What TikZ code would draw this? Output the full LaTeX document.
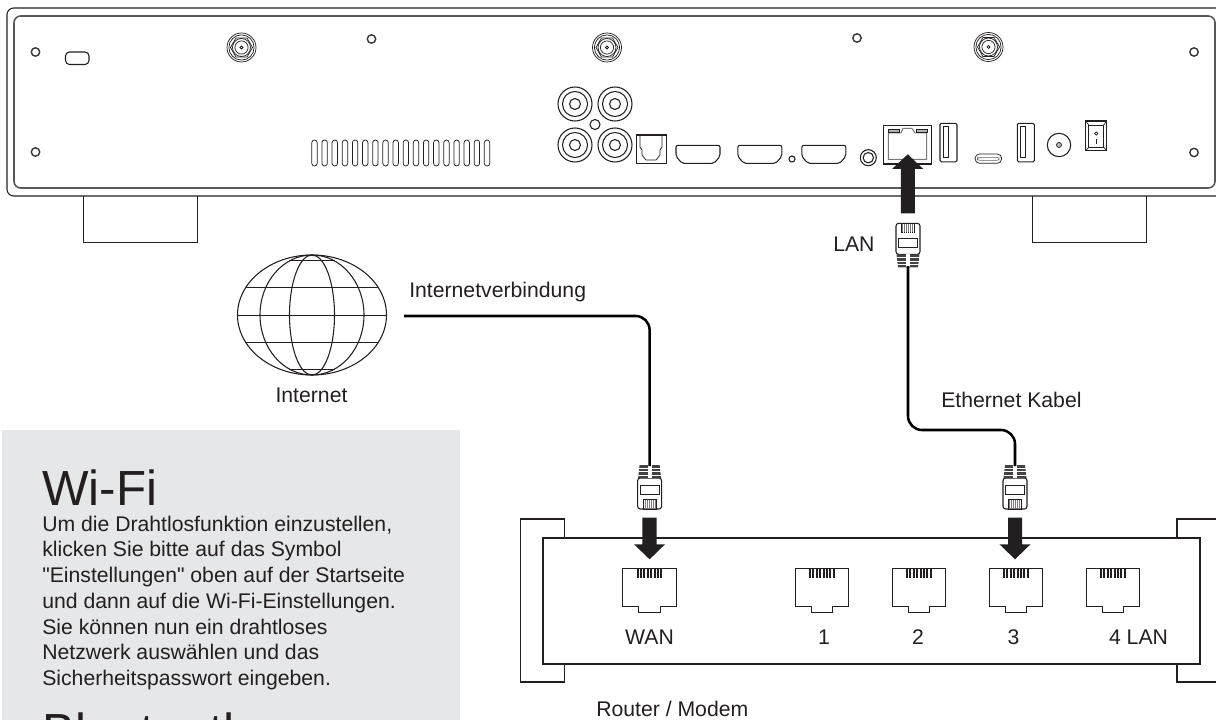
\documentclass[tikz,border=0pt]{standalone}
\usepackage{fontspec}
\setmainfont[Ligatures=TeXOff]{Liberation Sans}
\definecolor{ink}{HTML}{231F20}
\definecolor{panel}{HTML}{E6E7E8}
\tikzset{
  x=0.75pt,y=-0.75pt,
  thin line/.style={draw=ink,line width=0.8pt},
  foot line/.style={draw=ink,line width=0.65pt},
  hair/.style={draw=ink,line width=0.55pt},
  cable/.style={draw=black,line width=1.9pt,rounded corners=10.5pt},
  bigarrow/.style={fill=ink,draw=none},
  label/.style={font=\fontsize{15.9}{19}\selectfont,text=ink,inner sep=0pt,anchor=base west},
  heading/.style={font=\fontsize{37}{42}\selectfont,text=ink,inner sep=0pt,anchor=base west},
  screw/.pic={\draw[draw=ink!90,line width=1.05pt,fill=white] (0,0) circle (4.2);},
  antenna/.pic={
    \draw[hair] (0,0) circle (14.5) circle (12.6);
    \draw[hair] (0:11)--(60:11)--(120:11)--(180:11)--(240:11)--(300:11)--cycle;
    \draw[hair] (0,0) circle (9) circle (6.6);
    \draw[hair] (0,0) circle (1.5);},
  rca/.pic={\draw[thin line] (0,0) circle (17) circle (12.5) circle (5.5);},
  hdmi/.pic={\draw[thin line,rounded corners=1.5pt] (0,0)--(44,0)--(44,11)--(38,18)--(6,18)--(0,11)--cycle;},
  usb/.pic={\draw[thin line,rounded corners=1pt] (0,0) rectangle (17,38.5);
    \draw[hair] (3,3.5) rectangle (8.5,34.5);},
  jack/.pic={
    \draw[hair] (0,0)--(53.5,0)--(53.5,38.7)--(37.5,38.7)--(37.5,44.7)--(16,44.7)--(16,38.7)--(0,38.7)--cycle;
    \foreach \k in {0,...,7}{\fill[ink] ({14+\k*3.4},0) rectangle ++(2,10);}},
  plug/.pic={
    \draw[thin line,rounded corners=2pt] (-12,0)--(12,0)--(12,31)--(-12,31)--cycle;
    \draw[hair] (-9.5,15) rectangle (9.5,24);
    \draw[hair,fill=ink!60] (-6.5,0) rectangle (6.5,9.5);
    \foreach \k in {-5,-3,...,5}{\draw[white,line width=0.3pt] (\k,1)--(\k,9.5);}
    \fill[ink!85] (-11.5,31)--(11.5,31)--(10,44)--(-10,44)--cycle;
    \fill[white] (-2,31) rectangle (2,44);
    \foreach \yy in {34,37.5,41}{\draw[white,line width=0.35pt] (-11.5,\yy)--(11.5,\yy);}},
}
\begin{document}
\begin{tikzpicture}
\useasboundingbox (0,0) rectangle (1216,720);
\begin{scope}
\clip (0,0) rectangle (1216,720);
% grey panel
\fill[panel] (2,430) rectangle (460,720);
\node[heading] (wifi) at (42,505) {Wi-Fi};
\node[heading] (bt) at (42,748) {Bluetooth};
\node[label] (b1) at (42,531) {Um die Drahtlosfunktion einzustellen,};
\node[label] (b2) at (42,556.7) {klicken Sie bitte auf das Symbol};
\node[label] (b3) at (42,582.5) {"Einstellungen" oben auf der Startseite};
\node[label] (b4) at (42,608) {und dann auf die Wi-Fi-Einstellungen.};
\node[label] (b5) at (42,634) {Sie können nun ein drahtloses};
\node[label] (b6) at (42,659.5) {Netzwerk auswählen und das};
\node[label] (b7) at (42,685) {Sicherheitspasswort eingeben.};
% feet
\draw[foot line] (83,196)--(83,242)--(197,242)--(197,196);
\draw[foot line] (1032,196)--(1032,242)--(1146,242)--(1146,196);
% device body
\draw[thin line,rounded corners=5pt] (7,8) rectangle (1240,196);
\draw[draw=ink!75,line width=1.2pt,rounded corners=5pt] (14,16) rectangle (1215,188);
% small items
\pic at (35.5,52) {screw};
\pic at (35.5,152) {screw};
\pic at (371.5,39) {screw};
\pic at (857,38) {screw};
\pic at (1194,52) {screw};
\pic at (1194,152.5) {screw};
\draw[thin line,rounded corners=3pt] (65.5,52) rectangle (89,64.5);
\pic at (241.5,47.5) {antenna};
\pic at (607,47.5) {antenna};
\pic at (988.5,47) {antenna};
\foreach \k in {0,...,17}{
  \draw[hair,rounded corners=2pt] ({311.8+\k*10.15},140) rectangle ++(5.4,26);}
% audio
\pic at (575,104) {rca};
\pic at (615,104) {rca};
\pic at (575,145) {rca};
\pic at (615,145) {rca};
\draw[thin line] (595,124.5) circle (5);
\draw[thin line] (636.3,135) rectangle (666.3,163.3);
\draw[hair] (640,135)--(640,147)--(642,150)--(642,155)--(646,160)--(656,160)--(660,155)--(660,150)--(662,147)--(662,135);
\pic at (676,145.3) {hdmi};
\pic at (737.8,145.3) {hdmi};
\pic at (801.8,145.3) {hdmi};
\draw[thin line] (792,159) circle (3);
\draw[thin line] (868.3,157.7) circle (8) circle (5.2);
% RJ45 of device
\draw[thin line] (883.3,125.3) rectangle (931.7,164);
\draw[draw=ink!60,line width=0.75pt] (888.3,133)--(901,133)--(903,128.5)--(912,128.5)--(915,133)--(926.7,133)--(926.7,159.3)--(888.3,159.3)--cycle;
\draw[hair,fill=ink!35] (888,129.3) rectangle (899.3,132.3);
\draw[hair,fill=ink!35] (916.7,129.3) rectangle (927.7,132.3);
\pic at (940,123.3) {usb};
\draw[hair,rounded corners=3.4pt] (975,154) rectangle (1001.7,163.3);
\draw[draw=ink!70,line width=0.4pt,rounded corners=1.5pt] (977.5,157.3) rectangle (999.2,160.3);
\pic at (1017.3,123.3) {usb};
\draw[thin line] (1059,145) circle (11.7);
\draw[hair,fill=ink!30] (1059,145) circle (2.5);
\draw[thin line] (1085.7,121) rectangle (1106.7,150.7);
\draw[hair] (1088.7,125) rectangle (1103.7,147.3);
\draw[hair] (1085.7,121)--(1088.7,125) (1106.7,121)--(1103.7,125) (1085.7,150.7)--(1088.7,147.3) (1106.7,150.7)--(1103.7,147.3);
\draw[hair] (1096.2,133.5) circle (1.6);
\draw[draw=ink,line width=0.9pt] (1096.2,139)--(1096.2,144);
% LAN arrow and plug
\fill[bigarrow] (907.8,154.3)--(923.3,169)--(914.8,169)--(914.8,213.3)--(900.8,213.3)--(900.8,169)--(892,169)--cycle;
\pic at (908,223.3) {plug};
\coordinate (lanend) at (908,266);
\node[label] (lanlabel) at (833,252) {LAN};
% globe
\draw[thin line] (312,315) ellipse (74.5 and 60);
\draw[thin line] (312,315) ellipse (52 and 60);
\draw[thin line] (312,315) ellipse (22.5 and 60);
\draw[foot line] (289,260.5)--(335,260.5);
\draw[foot line] (246,287.5)--(378,287.5);
\draw[foot line] (237.5,315.5)--(386.5,315.5);
\draw[foot line] (246,342.5)--(378,342.5);
\draw[foot line] (289,369.5)--(335,369.5);
\node[label,anchor=base] (inetlabel) at (311.5,402) {Internet};
\coordinate (inetstart) at (404,316);
\node[label] (inetconn) at (409,297) {Internetverbindung};
% router
\draw[thin line,line width=1pt] (564.5,537)--(564.5,519)--(520.5,519)--(520.5,682)--(564.5,682)--(564.5,663);
\draw[thin line,line width=1pt] (1216,519)--(1177,519)--(1177,537);
\draw[thin line,line width=1pt] (1177,663)--(1177,682)--(1216,682);
\node[draw=ink,line width=1.2pt,minimum width=492.75pt,minimum height=94.5pt,inner sep=0pt,anchor=north west] (router) at (542,537) {};
\pic at (622.5,568) {jack};
\pic at (795,568) {jack};
\pic at (892,568) {jack};
\pic at (989,568) {jack};
\pic at (1086,568) {jack};
\node[label,anchor=base] (wan) at (649.5,644) {WAN};
\node[label,anchor=base] (p1) at (824,644) {1};
\node[label,anchor=base] (p2) at (918,644) {2};
\node[label,anchor=base] (p3) at (1013.5,644) {3};
\node[label,anchor=base] (p4) at (1138.5,644) {4 LAN};
\node[label] (routerlabel) at (596,716) {Router / Modem};
% plugs and arrows to router
\pic[yscale=-1] at (649.6,509) {plug};
\pic[yscale=-1] at (1015,509) {plug};
\coordinate (wanend) at (649.6,466);
\coordinate (lan3end) at (1015,466);
\fill[bigarrow] (649.6,559.3)--(665,544.3)--(656.7,544.3)--(656.7,517.7)--(642.3,517.7)--(642.3,544.3)--(634,544.3)--cycle;
\fill[bigarrow] (1015,559.3)--(1030.5,544.3)--(1022,544.3)--(1022,517.7)--(1008,517.7)--(1008,544.3)--(999.5,544.3)--cycle;
% cables
\draw[cable] (inetstart)-|(wanend);
\draw[cable] (lanend)|-(1015,430)--(lan3end);
\node[label] (ethlabel) at (941,407) {Ethernet Kabel};
\end{scope}
\end{tikzpicture}
\end{document}
